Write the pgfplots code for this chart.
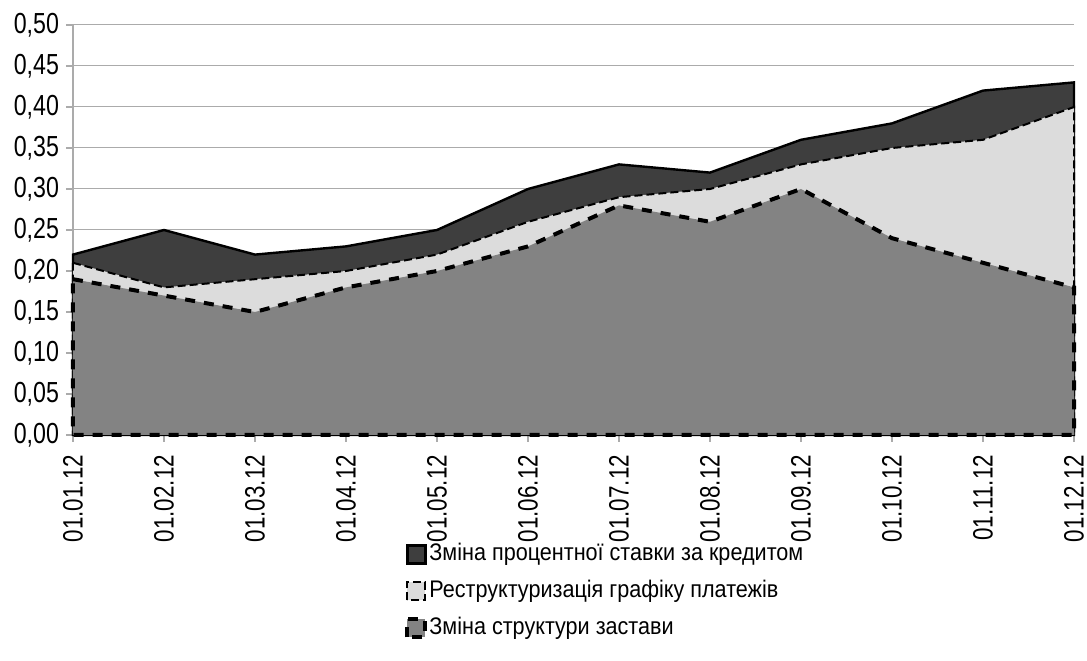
\documentclass[border=0pt]{standalone}
\usepackage{pgfplots}
\pgfplotsset{compat=1.18}
\usepackage{fontspec}
\setmainfont{Liberation Sans}
\newfontfamily\tickfont[FakeStretch=0.8]{Liberation Sans}
\newfontfamily\legfont[FakeStretch=0.9]{Liberation Sans}
\definecolor{darkarea}{HTML}{3E3E3E}
\definecolor{lightarea}{HTML}{DCDCDC}
\definecolor{midarea}{HTML}{838383}
\definecolor{gridc}{HTML}{ABABAB}
\begin{document}
\begin{tikzpicture}
\begin{axis}[
  name=ax,
  scale only axis,
  width=500.5pt, height=205pt,
  xmin=0, xmax=11,
  ymin=0, ymax=0.5,
  ytick={0,0.05,...,0.51},
  xtick={0,...,11},
  xticklabels={01.01.12,01.02.12,01.03.12,01.04.12,01.05.12,01.06.12,01.07.12,01.08.12,01.09.12,01.10.12,01.11.12,01.12.12},
  xticklabel style={yshift=-3pt, rotate=90, anchor=east, font=\fontsize{14}{16}\tickfont},
  yticklabel style={font=\fontsize{14.5}{16}\tickfont},
  /pgf/number format/.cd, fixed, fixed zerofill, precision=2, use comma, assume math mode=true,
  /pgfplots/.cd,
  axis x line=bottom, axis y line=left,
  axis line style={-, gridc, line width=0.6pt},
  tick align=outside,
  major tick length=3.5pt,
  tick style={gridc, line width=0.6pt},
  ymajorgrids,
  grid style={gridc, line width=0.5pt},
  legend style={at={(0.3317,-0.256)}, anchor=north west, draw=none, fill=none,
    font=\fontsize{12}{14}\legfont, row sep=4.5pt, inner sep=0pt,
    nodes={text height=9pt, text depth=3pt, inner sep=1pt},
    /tikz/every even column/.append style={column sep=1pt}},
  legend cell align=left,
  legend image code/.code={\draw[#1] (0pt,-4.5pt) rectangle (9pt,4.5pt);},
  clip=false,
]
\addplot[fill=darkarea, draw=black, line width=1.2pt] coordinates {
(0,0.22) (1,0.25) (2,0.22) (3,0.23) (4,0.25) (5,0.30) (6,0.33) (7,0.32) (8,0.36) (9,0.38) (10,0.42) (11,0.43)} \closedcycle;
\addlegendentry{Зміна процентної ставки за кредитом}
\addplot[fill=lightarea, draw=black, line width=1pt, dash pattern=on 4pt off 2pt] coordinates {
(0,0.21) (1,0.18) (2,0.19) (3,0.20) (4,0.22) (5,0.26) (6,0.29) (7,0.30) (8,0.33) (9,0.35) (10,0.36) (11,0.40)} \closedcycle;
\addlegendentry{Реструктуризація графіку платежів}
\addplot[fill=midarea, draw=black, line width=2pt, dash pattern=on 5pt off 4.5pt] coordinates {
(0,0.19) (1,0.17) (2,0.15) (3,0.18) (4,0.20) (5,0.23) (6,0.28) (7,0.26) (8,0.30) (9,0.24) (10,0.21) (11,0.18)} \closedcycle;
\addlegendentry{Зміна структури застави}
\end{axis}
\pgfresetboundingbox
\useasboundingbox ([shift={(-36.5pt,-113pt)}]ax.south west) rectangle ([shift={(6.5pt,12.5pt)}]ax.north east);
\end{tikzpicture}
\end{document}
